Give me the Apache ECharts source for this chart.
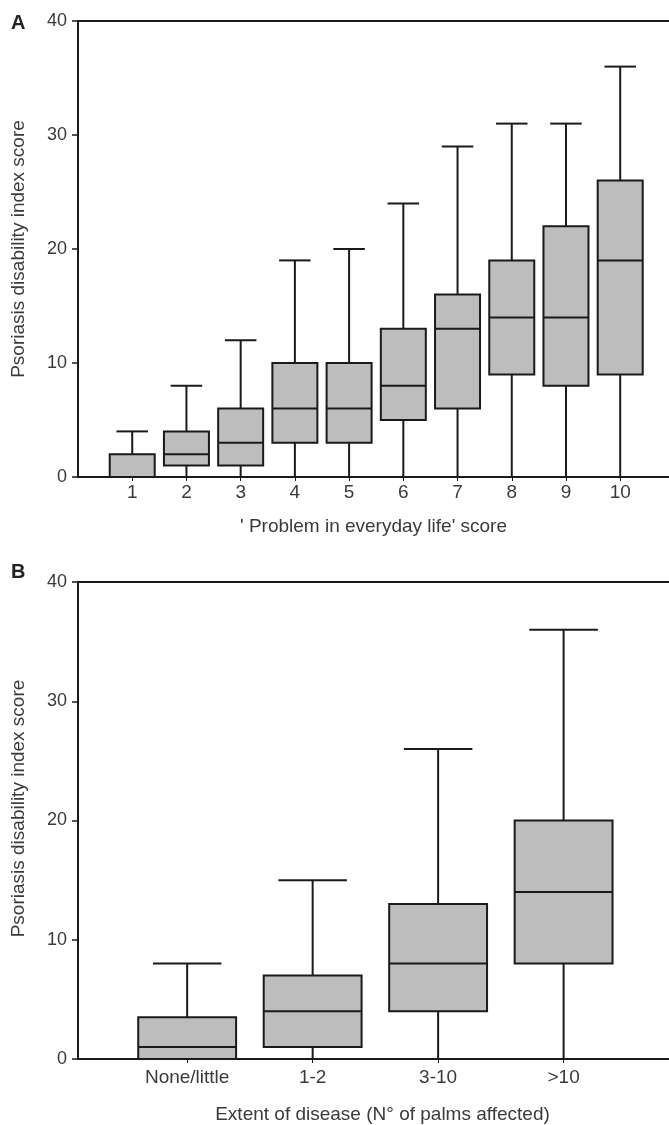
<!DOCTYPE html>
<html>
<head>
<meta charset="utf-8">
<script src="https://cdn.jsdelivr.net/npm/echarts@6/dist/echarts.min.js"></script>
<style>
  html, body { margin: 0; padding: 0; background: #fff; }
  #chart { width: 669px; height: 1125px; }
</style>
</head>
<body>
<div id="chart"></div>
<script>
// panel A: 'Problem in everyday life' score
const scoreCats = ['1', '2', '3', '4', '5', '6', '7', '8', '9', '10'];
// [min, q1, median, q3, max]
const scoreBoxes = [
    [0, 0, 0, 2, 4],
    [0, 1, 2, 4, 8],
    [0, 1, 3, 6, 12],
    [0, 3, 6, 10, 19],
    [0, 3, 6, 10, 20],
    [0, 5, 8, 13, 24],
    [0, 6, 13, 16, 29],
    [0, 9, 14, 19, 31],
    [0, 8, 14, 22, 31],
    [0, 9, 19, 26, 36]
];

// panel B: extent of disease
const extentCats = ['None/little', '1-2', '3-10', '>10'];
const extentBoxes = [
    [0, 0, 1, 3.5, 8],
    [0, 1, 4, 7, 15],
    [0, 4, 8, 13, 26],
    [0, 8, 14, 20, 36]
];

const yTicks = [0, 10, 20, 30, 40];

const FONT = '"Liberation Sans", Arial, Helvetica, sans-serif';
const TXT = '#3a3a3a';
const LINE = '#1a1a1a';

const chart = echarts.init(document.getElementById('chart'));

function boxRenderer(boxW) {
    return function (params, api) {
        const x = api.value(0);
        const lo = api.coord([x, api.value(1)]);
        const q1 = api.coord([x, api.value(2)]);
        const md = api.coord([x, api.value(3)]);
        const q3 = api.coord([x, api.value(4)]);
        const hi = api.coord([x, api.value(5)]);
        const w = api.size([boxW, 0])[0];
        const cw = w * 0.7;
        const cx = q1[0];
        const lineStyle = { stroke: LINE, lineWidth: 2, fill: null };
        return {
            type: 'group',
            children: [
                { type: 'line', shape: { x1: cx, y1: q3[1], x2: cx, y2: hi[1] }, style: lineStyle },
                { type: 'line', shape: { x1: cx - cw / 2, y1: hi[1], x2: cx + cw / 2, y2: hi[1] }, style: lineStyle },
                { type: 'line', shape: { x1: cx, y1: q1[1], x2: cx, y2: lo[1] }, style: lineStyle },
                {
                    type: 'rect',
                    shape: { x: cx - w / 2, y: q3[1], width: w, height: q1[1] - q3[1] },
                    style: { fill: '#bdbdbd', stroke: LINE, lineWidth: 2 }
                },
                { type: 'line', shape: { x1: cx - w / 2, y1: md[1], x2: cx + w / 2, y2: md[1] }, style: lineStyle }
            ]
        };
    };
}

function toData(boxes, start) {
    return boxes.map(function (b, i) { return [start + i].concat(b); });
}

function yAxis(gridIndex, namePad) {
    return {
        type: 'value',
        gridIndex: gridIndex,
        min: 0,
        max: 40,
        interval: 10,
        name: 'Psoriasis disability index score',
        nameLocation: 'middle',
        nameGap: 50,
        nameTextStyle: { fontFamily: FONT, fontSize: 19, color: TXT, padding: namePad },
        axisLine: { show: true, onZero: false, lineStyle: { color: LINE, width: 2 } },
        axisTick: { show: true, length: 6, lineStyle: { color: LINE, width: 1.5 } },
        axisLabel: {
            fontFamily: FONT, fontSize: 18, color: TXT, margin: 11,
            customValues: yTicks
        },
        splitLine: { show: false }
    };
}

function topBorder(gridIndex, min, max) {
    return {
        type: 'value', gridIndex: gridIndex, position: 'top', min: min, max: max,
        axisLine: { show: true, onZero: false, lineStyle: { color: LINE, width: 2 } },
        axisTick: { show: false }, axisLabel: { show: false }, splitLine: { show: false }
    };
}

function catAxis(gridIndex, cats, start, min, max, title, gap, margin, namePad) {
    const ticks = cats.map(function (c, i) { return start + i; });
    return {
        type: 'value', gridIndex: gridIndex, min: min, max: max,
        name: title,
        nameLocation: 'middle', nameGap: gap,
        nameTextStyle: { fontFamily: FONT, fontSize: 19, color: TXT, padding: namePad },
        axisLine: { show: true, onZero: false, lineStyle: { color: LINE, width: 2 } },
        axisTick: { show: true, length: 4, customValues: ticks, lineStyle: { color: LINE } },
        axisLabel: {
            fontFamily: FONT, fontSize: 19, color: TXT, margin: margin,
            customValues: ticks,
            formatter: function (v) { return cats[Math.round(v) - start]; }
        },
        splitLine: { show: false }
    };
}

const option = {
    animation: false,
    backgroundColor: '#fff',
    graphic: [
        { type: 'text', left: 11, top: 13, style: { text: 'A', font: 'bold 20px ' + FONT, fill: '#222' } },
        { type: 'text', left: 11, top: 562, style: { text: 'B', font: 'bold 20px ' + FONT, fill: '#222' } }
    ],
    grid: [
        { left: 78, top: 21, right: 0, height: 456 },
        { left: 78, top: 582, right: 0, height: 477 }
    ],
    xAxis: [
        catAxis(0, scoreCats, 1, 0, 10.9, "' Problem in everyday life' score", 40, 6, 0),
        topBorder(0, 0, 10.9),
        catAxis(1, extentCats, 0, -0.87, 3.84, 'Extent of disease (N\u00b0 of palms affected)', 46, 9, [0, 0, 0, 18]),
        topBorder(1, -0.87, 3.84)
    ],
    yAxis: [yAxis(0, 0), yAxis(1, [0, 0, 0, 24])],
    series: [
        {
            type: 'custom', xAxisIndex: 0, yAxisIndex: 0,
            renderItem: boxRenderer(0.83),
            encode: { x: 0, y: [1, 2, 3, 4, 5] },
            data: toData(scoreBoxes, 1)
        },
        {
            type: 'custom', xAxisIndex: 2, yAxisIndex: 1,
            renderItem: boxRenderer(0.78),
            encode: { x: 0, y: [1, 2, 3, 4, 5] },
            data: toData(extentBoxes, 0)
        }
    ]
};

chart.setOption(option);
</script>
</body>
</html>
